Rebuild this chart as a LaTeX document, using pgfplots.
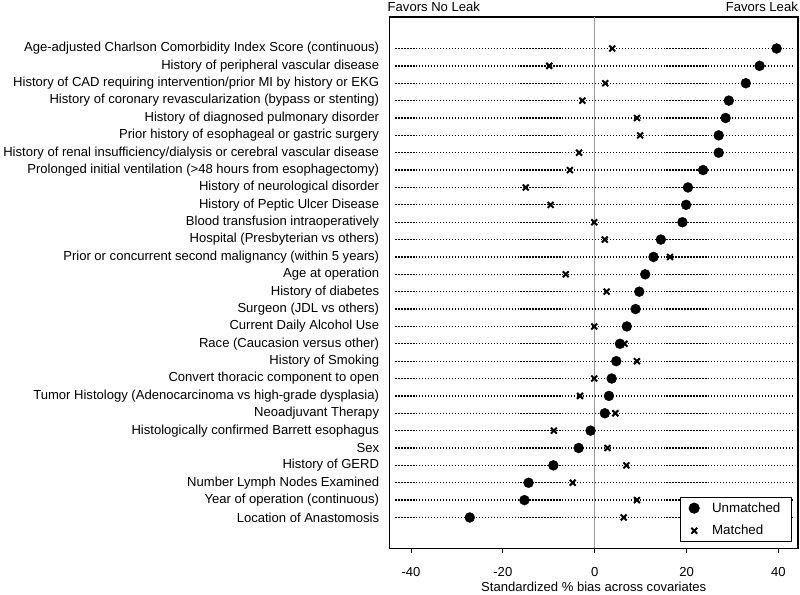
\documentclass[border=0pt]{standalone}
\usepackage{fontspec}
\setmainfont{Liberation Sans}
\usepackage{pgfplots}
\pgfplotsset{compat=1.18}
\usepackage{pgfplotstable}
\pgfplotstableread{
row un ma
1 39.6 3.8
2 35.9 -9.9
3 32.9 2.3
4 29.2 -2.7
5 28.5 9.2
6 27.0 9.9
7 27.0 -3.4
8 23.6 -5.4
9 20.3 -15.0
10 19.9 -9.6
11 19.1 -0.1
12 14.4 2.2
13 12.8 16.4
14 11.0 -6.3
15 9.7 2.6
16 8.9 8.9
17 7.0 -0.1
18 5.5 6.5
19 4.7 9.2
20 3.7 -0.1
21 3.1 -3.2
22 2.2 4.5
23 -0.9 -8.9
24 -3.5 2.8
25 -9.0 6.9
26 -14.4 -4.8
27 -15.3 9.2
28 -27.2 6.3
}\datatable
\begin{document}
\begin{tikzpicture}[x=1bp,y=1bp]
\begin{axis}[
  scale only axis,
  width=411.3bp, height=535bp,
  xmin=-44.67, xmax=44.26,
  ymin=-0.82, ymax=29.77,
  y dir=reverse,
  axis line style={black, line width=1.3bp},
  font=\fontsize{13.2}{15}\selectfont,
  xtick={-40,-20,0,20,40},
  xtick align=outside,
  xtick pos=bottom,
  major tick length=5bp,
  tick style={black, line width=0.8bp},
  xticklabel style={yshift=-11bp},
  /pgf/number format/assume math mode=true,
  ytick={1,...,28},
  ytick style={draw=none},
  yticklabel style={xshift=-7bp},
  yticklabels={
    {Age-adjusted Charlson Comorbidity Index Score (continuous)},
    {History of peripheral vascular disease},
    {History of CAD requiring intervention/prior MI by history or EKG},
    {History of coronary revascularization (bypass or stenting)},
    {History of diagnosed pulmonary disorder},
    {Prior history of esophageal or gastric surgery},
    {History of renal insufficiency/dialysis or cerebral vascular disease},
    {Prolonged initial ventilation (>48 hours from esophagectomy)},
    {History of neurological disorder},
    {History of Peptic Ulcer Disease},
    {Blood transfusion intraoperatively},
    {Hospital (Presbyterian vs others)},
    {Prior or concurrent second malignancy (within 5 years)},
    {Age at operation},
    {History of diabetes},
    {Surgeon (JDL vs others)},
    {Current Daily Alcohol Use},
    {Race (Caucasion versus other)},
    {History of Smoking},
    {Convert thoracic component to open},
    {Tumor Histology (Adenocarcinoma vs high-grade dysplasia)},
    {Neoadjuvant Therapy},
    {Histologically confirmed Barrett esophagus},
    {Sex},
    {History of GERD},
    {Number Lymph Nodes Examined},
    {Year of operation (continuous)},
    {Location of Anastomosis}},
  xlabel={Standardized \% bias across covariates},
  xlabel style={yshift=2bp},
  legend style={at={(rel axis cs:0.985,0.012)}, anchor=south east,
    draw=black, line width=1.2bp, font=\fontsize{13.5}{15}\selectfont,
    inner xsep=9bp, inner ysep=3bp, row sep=7.5bp,
    /tikz/every odd column/.append style={column sep=11bp}},
  legend cell align=left,
  clip=false,
]
\pgfplotsinvokeforeach{1,...,28}{
  \draw[black, line width=1.3bp, dash pattern=on 1.3bp off 1.7bp]
    (axis cs:-43.4,#1) -- (axis cs:43.0,#1);
}
\addplot[forget plot, gray!80, line width=1.2bp] coordinates {(0,-0.82) (0,29.77)};
\addplot[only marks, mark=*, mark size=5bp, black, mark options={fill=black}]
  table[x=un, y=row] {\datatable};
\addlegendentry{Unmatched}
\addplot[only marks, mark=x, mark size=4.2bp, black, mark options={line width=2bp}]
  table[x=ma, y=row] {\datatable};
\addlegendentry{Matched}
\node[anchor=south west, inner sep=0pt, font=\fontsize{13.2}{15}\selectfont]
  at ([xshift=-2bp,yshift=5bp]rel axis cs:0,1) {Favors No Leak};
\node[anchor=south east, inner sep=0pt, font=\fontsize{13.2}{15}\selectfont]
  at ([xshift=0bp,yshift=5bp]rel axis cs:1,1) {Favors Leak};
\end{axis}
\path ([xshift=-386.7bp,yshift=-39bp]current axis.south west);
\path ([xshift=2bp,yshift=17bp]current axis.north east);
\end{tikzpicture}
\end{document}
